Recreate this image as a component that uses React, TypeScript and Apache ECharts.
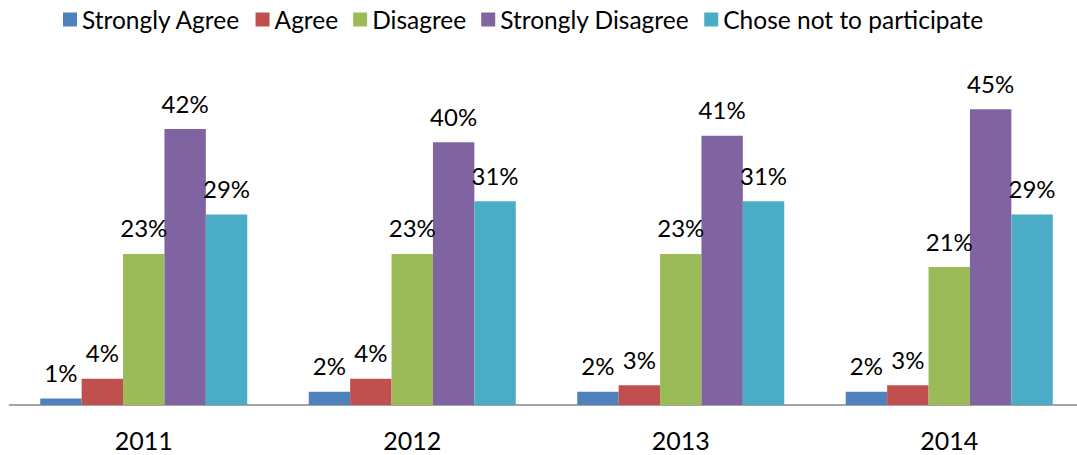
import React, { useEffect, useRef } from "react";
import * as echarts from "echarts";

const categories = ["2011", "2012", "2013", "2014"];
const seriesNames = ["Strongly Agree", "Agree", "Disagree", "Strongly Disagree", "Chose not to participate"];
const stronglyAgree = [1, 2, 2, 2];
const agree = [4, 4, 3, 3];
const disagree = [23, 23, 23, 21];
const stronglyDisagree = [42, 40, 41, 45];
const choseNot = [29, 31, 31, 29];
const colors = ["#4F81BD", "#C0504D", "#9BBB59", "#8064A2", "#4BACC6"];

const FONT = "Lato";

export default function App() {
  const ref = useRef<HTMLDivElement>(null);
  useEffect(() => {
    if (!ref.current) return;
    const chart = echarts.init(ref.current, undefined, { renderer: "svg" });
    const values = [stronglyAgree, agree, disagree, stronglyDisagree, choseNot];
    chart.setOption({
      animation: false,
      color: colors,
      legend: {
        top: 2,
        left: 58,
        itemWidth: 14,
        itemHeight: 14,
        itemGap: 15,
        icon: "rect",
        textStyle: { fontFamily: FONT, fontSize: 24.5, color: "#000" },
        data: seriesNames,
      },
      grid: { left: 9.5, width: 1074, top: 76.5, bottom: 50, containLabel: false },
      xAxis: {
        type: "category",
        data: categories,
        axisLine: { lineStyle: { color: "#868686", width: 1.5 } },
        axisTick: { length: 6, lineStyle: { color: "#868686", width: 1.5 } },
        axisLabel: { fontFamily: FONT, fontSize: 25, color: "#000", margin: 22, lineHeight: 25 },
      },
      yAxis: { type: "value", min: 0, max: 50, show: false, splitLine: { show: false } },
      series: seriesNames.map((name, i) => ({
        name,
        type: "bar",
        data: values[i],
        barGap: "0%",
        barCategoryGap: "22.9%",
        label: {
          show: true,
          position: "top",
          distance: 15,
          formatter: "{c}%",
          fontFamily: FONT,
          fontSize: 24,
          lineHeight: 22,
          color: "#000",
        },
      })),
    });
    return () => chart.dispose();
  }, []);
  return (
    <div style={{ position: "absolute", left: 0, top: 0, width: 1077, height: 455, overflow: "hidden" }}>
      <div ref={ref} style={{ width: 1090, height: 455 }} />
    </div>
  );
}
